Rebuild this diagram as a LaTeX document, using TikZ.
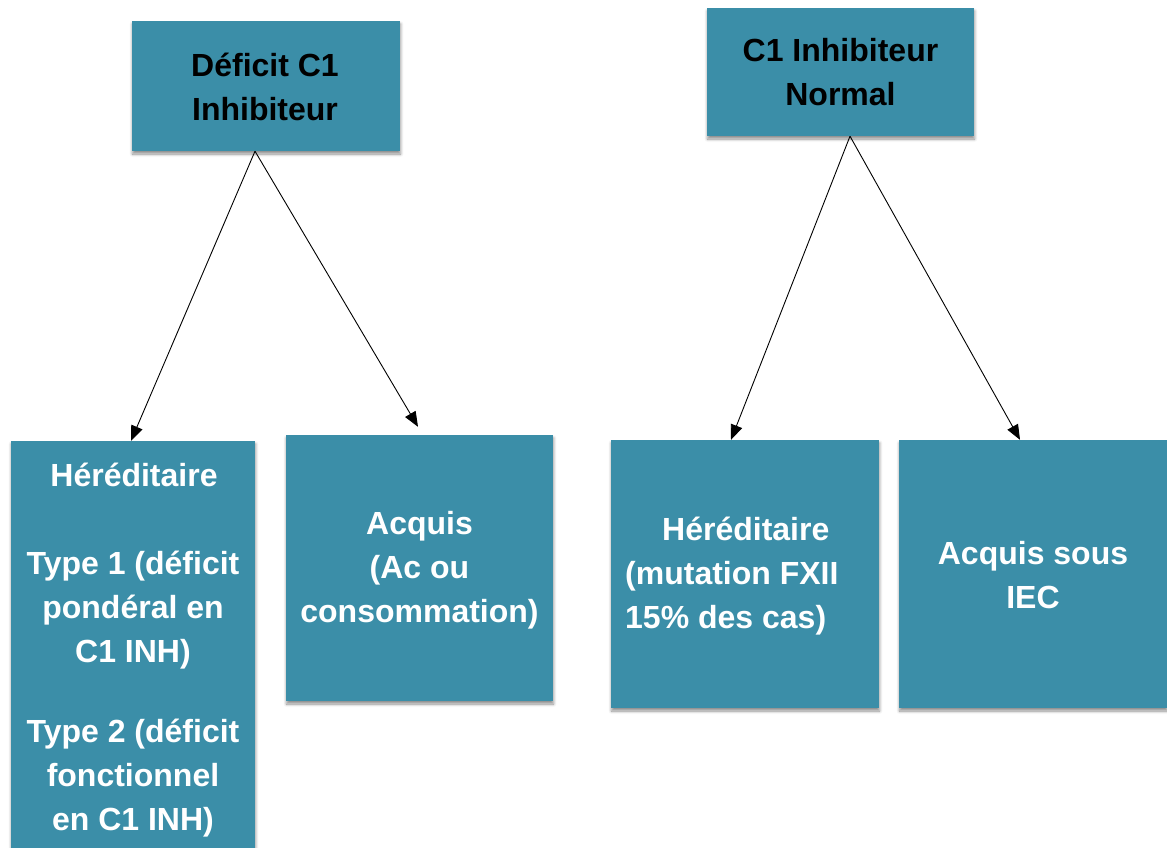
\documentclass[tikz,border=0pt]{standalone}
\usepackage{fontspec}
\setmainfont{Liberation Sans}
\usetikzlibrary{arrows.meta,shadows.blur}
\definecolor{teal1}{RGB}{59,142,168}
\tikzset{
  card/.style={draw=none, fill=teal1, anchor=center, inner sep=0pt,
    blur shadow={shadow xshift=0.5pt, shadow yshift=-3pt, shadow blur steps=6, shadow opacity=45, shadow blur radius=3pt}},
  darktext/.style={text=black, font=\fontsize{32}{44}\selectfont\bfseries, align=center, inner sep=0pt},
  lighttext/.style={text=white, font=\fontsize{32}{44}\selectfont\bfseries, align=center, inner sep=0pt},
  link/.style={draw=black, line width=0.9pt, -{Triangle[length=15pt,width=12pt]}}
}
\begin{document}
\begin{tikzpicture}[x=1pt,y=-1pt]
\useasboundingbox (0,0) rectangle (1167,847);
% top boxes
\node[card, minimum width=268pt, minimum height=130pt] (tl) at (266,86) {};
\node[darktext] (tltext) at (265,87) {Déficit C1\\Inhibiteur};
\node[card, minimum width=267pt, minimum height=128pt] (tr) at (840.5,72) {};
\node[darktext] (trtext) at (840.5,72) {C1 Inhibiteur\\Normal};
% bottom boxes
\node[card, minimum width=244pt, minimum height=440pt] (b1) at (133,661) {};
\node[card, minimum width=267pt, minimum height=266pt] (b2) at (419.5,568) {};
\node[card, minimum width=268pt, minimum height=268pt] (b3) at (745,574) {};
\node[card, minimum width=268pt, minimum height=268pt] (b4) at (1033,574) {};
% bottom texts
\node[lighttext] (b1a) at (134,475) {Héréditaire};
\node[lighttext] (b1b) at (133,610) {Type 1 (déficit\\pondéral en\\C1 INH)};
\node[lighttext] (b1c) at (133,778) {Type 2 (déficit\\fonctionnel\\en C1 INH)};
\node[lighttext] (b2text) at (419.5,570) {Acquis\\(Ac ou\\consommation)};
\node[lighttext, align=left, anchor=west] (b3text) at (625,576) {\hspace*{37pt}Héréditaire\\(mutation FXII\\15\% des cas)};
\node[lighttext] (b4text) at (1033,575) {Acquis sous\\IEC};
% connectors
\draw[link] ([xshift=-11pt]tl.south) -- ([xshift=-2pt]b1.north);
\draw[link] ([xshift=-11pt]tl.south) -- ([xshift=-1.5pt,yshift=8pt]b2.north);
\draw[link] ([xshift=9.5pt]tr.south) -- ([xshift=-14pt]b3.north);
\draw[link] ([xshift=9.5pt]tr.south) -- ([xshift=-13pt]b4.north);
\end{tikzpicture}
\end{document}
